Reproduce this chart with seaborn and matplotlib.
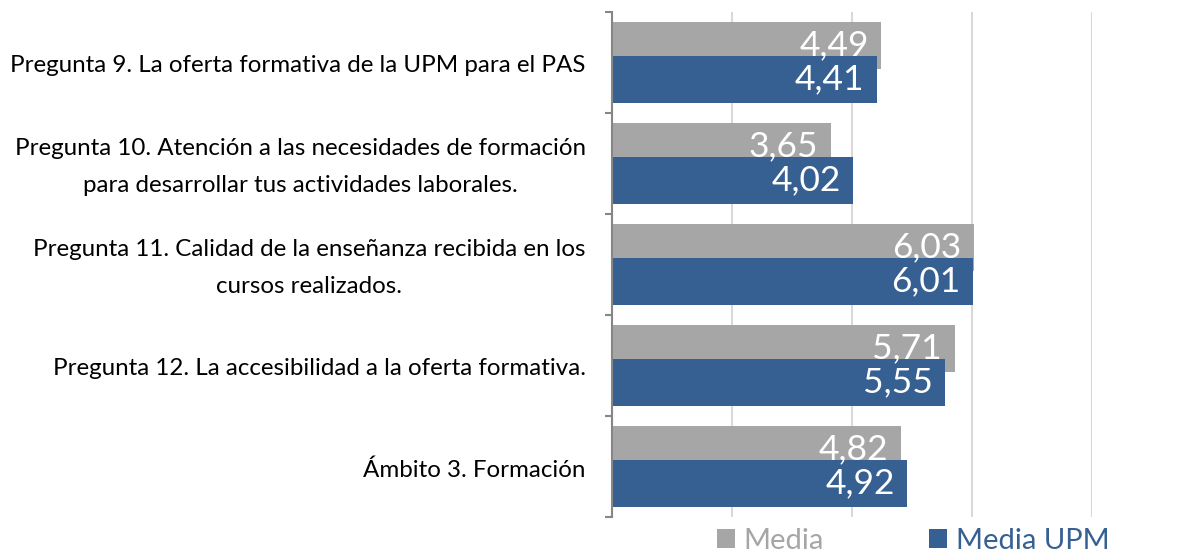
import matplotlib
matplotlib.use("Agg")
import matplotlib.pyplot as plt
import seaborn as sns
import pandas as pd
from matplotlib.ticker import FixedLocator
from matplotlib.patches import Patch

categories = [
    "Pregunta 9. La oferta formativa de la UPM para el PAS",
    "Pregunta 10. Atención a las necesidades de formación\npara desarrollar tus actividades laborales.",
    "Pregunta 11. Calidad de la enseñanza recibida en los\ncursos realizados.",
    "Pregunta 12. La accesibilidad a la oferta formativa.",
    "Ámbito 3. Formación",
]
media = [4.49, 3.65, 6.03, 5.71, 4.82]
media_upm = [4.41, 4.02, 6.01, 5.55, 4.92]
series = ["Media", "Media UPM"]
colors = ["#A6A6A6", "#376092"]

df = pd.DataFrame({
    "cat": categories * 2,
    "valor": media + media_upm,
    "serie": [series[0]] * len(categories) + [series[1]] * len(categories),
})

sns.set_theme(style="white")
plt.rcParams["font.family"] = ["Lato", "DejaVu Sans"]

fig = plt.figure(figsize=(12.03, 5.54), dpi=100)
ax = fig.add_axes([612 / 1203, 1 - 517 / 554, 480 / 1203, 505 / 554])

sns.barplot(data=df, y="cat", x="valor", hue="serie", orient="h",
            palette=colors, width=0.672, ax=ax, legend=False,
            saturation=1, errorbar=None, order=categories, hue_order=series)

# enlarge bars so they overlap (keep centers)
bar_h = 0.465
for p in ax.patches:
    c = p.get_y() + p.get_height() / 2
    p.set_height(bar_h)
    p.set_y(c - bar_h / 2)
    p.set_linewidth(0)

# value labels inside bar ends
for p in ax.patches:
    w = p.get_width()
    cy = p.get_y() + p.get_height() / 2
    ax.annotate(f"{w:.2f}".replace(".", ","), xy=(w, cy), xytext=(-9, 0),
                textcoords="offset points", ha="right", va="center",
                fontsize=25.5, color="white")

ax.set_xlim(0, 8)
ax.set_ylim(len(categories) - 0.5, -0.5)
ax.set_xlabel("")
ax.set_ylabel("")
ax.set_xticks([0, 2, 4, 6, 8])
ax.set_xticklabels([])
ax.tick_params(axis="x", length=0)
ax.grid(axis="x", color="#D9D9D9", linewidth=1.5)
ax.set_axisbelow(True)

for s in ["top", "right", "bottom"]:
    ax.spines[s].set_visible(False)
ax.spines["left"].set_color("#868686")
ax.spines["left"].set_linewidth(1.5)

# category labels (drawn as text to control line spacing)
yticks = ax.get_yticks()
ax.set_yticklabels([])
ax.tick_params(axis="y", which="major", length=0)
for yv, lab in zip(yticks, categories):
    ax.annotate(lab, xy=(0, yv), xycoords=("axes fraction", "data"),
                xytext=(-19, -2.5), textcoords="offset points",
                ha="right", va="center", multialignment="center",
                linespacing=1.95, fontsize=17.4, color="#000000")

ax.yaxis.set_minor_locator(FixedLocator([i - 0.5 for i in range(len(categories) + 1)]))
ax.tick_params(axis="y", which="minor", length=5, width=1.5, color="#868686",
               direction="out", left=True)

handles = [Patch(facecolor=c, edgecolor="none") for c in colors]
leg = fig.legend(handles, series, loc="center", bbox_to_anchor=(913 / 1203, 1 - 541 / 554),
                 ncol=2, frameon=False, fontsize=21, handlelength=0.62, handleheight=0.62,
                 handletextpad=0.3, columnspacing=3.6, borderpad=0)
for t, c in zip(leg.get_texts(), colors):
    t.set_color(c)

fig.savefig("out.png", dpi=100)
